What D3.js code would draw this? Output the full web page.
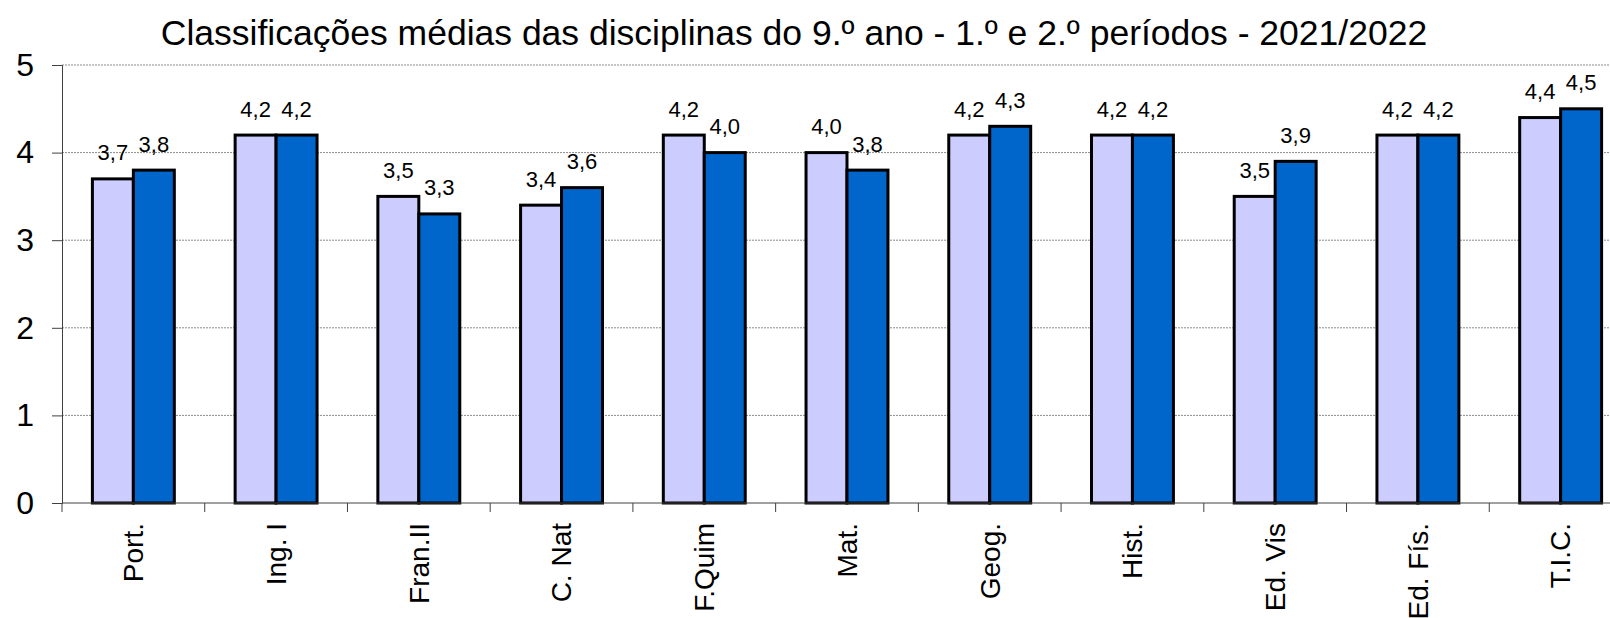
<!DOCTYPE html>
<html lang="pt">
<head>
  <meta charset="UTF-8">
  <title>Classificações médias</title>
  <style>
    html, body { margin: 0; padding: 0; background: #fff; }
    svg { display: block; font-family: "Liberation Sans", Arial, sans-serif; }
    .grid line { stroke: #8c8c8c; stroke-width: 1; stroke-dasharray: 2,1; }
    .bar { stroke: #000; stroke-width: 3; }
  </style>
</head>
<body>
  <svg id="chart" width="1610" height="618"></svg>
  <script src="https://cdn.jsdelivr.net/npm/d3@7/dist/d3.min.js"></script>
  <script>
    const title = 'Classificações médias das disciplinas do 9.º ano - 1.º e 2.º períodos - 2021/2022'
    const categories = ['Port.', 'Ing. I', 'Fran.II', 'C. Nat', 'F.Quim', 'Mat.', 'Geog.', 'Hist.', 'Ed. Vis', 'Ed. Fís.', 'T.I.C.']
    const periodo1 = [3.7, 4.2, 3.5, 3.4, 4.2, 4.0, 4.2, 4.2, 3.5, 4.2, 4.4]
    const periodo2 = [3.8, 4.2, 3.3, 3.6, 4.0, 3.8, 4.3, 4.2, 3.9, 4.2, 4.5]
    const seriesNames = ['1.º período', '2.º período']
    const colors = ['#ccccff', '#0066cc']
    const yTicks = [0, 1, 2, 3, 4, 5]

    const svg = d3.select('#chart')
    const mLeft = 62, mRight = 1632, mTop = 65, mBottom = 503

    const x = d3.scaleBand().domain(categories).range([mLeft, mRight]).padding(0)
    const bw = x.bandwidth()
    const inner = d3.scaleBand().domain(seriesNames)
      .range([bw * (0.5 - 0.287), bw * (0.5 + 0.287)]).padding(0)
    const y = d3.scaleLinear().domain([0, 5]).range([mBottom, mTop])

    // gridlines
    svg.append('g').attr('class', 'grid')
      .selectAll('line')
      .data(yTicks.filter(d => d > 0))
      .enter().append('line')
      .attr('x1', mLeft).attr('x2', 1610)
      .attr('y1', d => y(d)).attr('y2', d => y(d))

    // title
    svg.append('text')
      .attr('x', 794).attr('y', 45)
      .attr('text-anchor', 'middle')
      .style('font-size', '35.5px')
      .text(title)

    // bars
    const rows = categories.map((c, i) => ({ cat: c, vals: [periodo1[i], periodo2[i]] }))
    const groups = svg.append('g').selectAll('g')
      .data(rows).enter().append('g')
      .attr('transform', d => `translate(${x(d.cat)},0)`)

    groups.selectAll('rect')
      .data(d => d.vals.map((v, j) => ({ name: seriesNames[j], v: v, j: j })))
      .enter().append('rect')
      .attr('class', 'bar')
      .attr('x', d => inner(d.name))
      .attr('width', inner.bandwidth())
      .attr('y', d => y(d.v))
      .attr('height', d => y(0) - y(d.v))
      .attr('fill', d => colors[d.j])

    groups.selectAll('text')
      .data(d => d.vals.map((v, j) => ({ name: seriesNames[j], v: v })))
      .enter().append('text')
      .attr('x', d => inner(d.name) + inner.bandwidth() / 2)
      .attr('y', d => y(d.v) - 18.5)
      .attr('text-anchor', 'middle')
      .style('font-size', '22px')
      .text(d => d3.format('.1f')(d.v).replace('.', ','))

    // y axis
    const yAxis = svg.append('g')
      .attr('transform', `translate(${mLeft},0)`)
      .call(d3.axisLeft(y).tickValues(yTicks).tickSize(10).tickPadding(18).tickFormat(d3.format('d')))
    yAxis.select('.domain').attr('stroke', '#404040')
    yAxis.selectAll('.tick line').attr('stroke', '#404040')
    yAxis.selectAll('.tick text').style('font-size', '32px').attr('fill', '#000')
      .style('font-family', '"Liberation Sans", Arial, sans-serif')

    // x axis
    const xAxis = svg.append('g')
      .attr('transform', `translate(0,${mBottom})`)
    xAxis.append('line')
      .attr('x1', mLeft).attr('x2', 1610)
      .attr('stroke', '#404040')
    xAxis.selectAll('line.tk')
      .data(categories.map(c => x(c)))
      .enter().append('line').attr('class', 'tk')
      .attr('x1', d => d).attr('x2', d => d)
      .attr('y1', 0).attr('y2', 9)
      .attr('stroke', '#404040')
    xAxis.selectAll('text')
      .data(categories).enter().append('text')
      .attr('transform', d => `translate(${x(d) + bw / 2},20) rotate(-90)`)
      .attr('text-anchor', 'end')
      .attr('dy', '0.35em')
      .style('font-size', '28px')
      .text(d => d)
  </script>
</body>
</html>
